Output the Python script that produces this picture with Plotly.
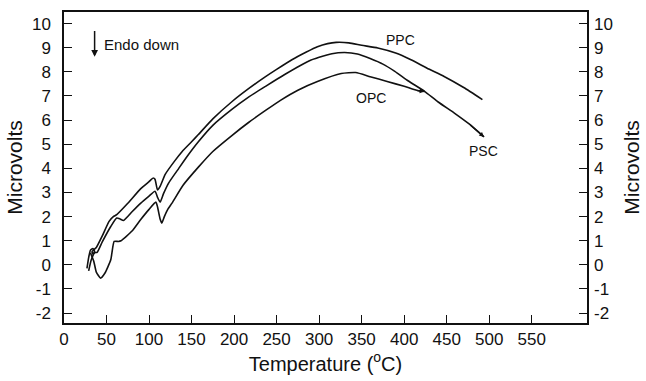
import plotly.graph_objects as go

# ---- data ----
ppc_t = [27, 29, 31, 34, 36, 34, 33, 38, 45, 53, 58, 62, 75, 90, 100, 105, 107, 110, 113, 119,
         130, 139, 150, 158, 175, 197, 217, 237, 250, 268, 285, 298, 310, 320, 335, 350, 369,
         390, 408, 427, 447, 470, 492]
ppc_v = [-0.15, 0.3, 0.6, 0.68, 0.55, 0.45, 0.55, 0.72, 1.2, 1.8, 2.0, 2.08, 2.55, 3.15, 3.45,
         3.6, 3.55, 3.1, 3.25, 3.75, 4.3, 4.7, 5.1, 5.4, 6.05, 6.75, 7.3, 7.8, 8.1, 8.5, 8.82,
         9.04, 9.17, 9.22, 9.2, 9.1, 8.99, 8.78, 8.5, 8.15, 7.81, 7.35, 6.85]

psc_t = [29, 32, 36, 39, 45, 55, 62, 66, 70, 80, 90, 100, 107, 110, 113, 117, 123, 135, 146,
         158, 175, 197, 217, 237, 260, 288, 300, 315, 330, 345, 360, 375, 389, 405, 424, 440,
         459, 476, 494]
psc_v = [-0.25, 0.2, 0.5, 0.52, 0.95, 1.59, 1.94, 1.9, 1.84, 2.2, 2.55, 2.85, 3.05, 2.8, 2.6,
         2.95, 3.39, 4.0, 4.55, 5.1, 5.78, 6.43, 6.95, 7.4, 7.9, 8.45, 8.6, 8.75, 8.8, 8.74,
         8.55, 8.32, 8.02, 7.62, 7.19, 6.75, 6.29, 5.85, 5.3]

opc_t = [31, 35, 38, 43, 48, 55, 59, 64, 67, 80, 90, 100, 108, 110, 113, 115, 118, 122, 127,
         140, 158, 175, 197, 217, 237, 255, 275, 298, 326, 343, 360, 380, 400, 416, 424]
opc_v = [0.5, 0.15, -0.3, -0.55, -0.35, 0.21, 0.97, 0.97, 1.0, 1.4, 1.87, 2.3, 2.6, 2.4, 1.9,
         1.73, 2.0, 2.3, 2.56, 3.3, 4.05, 4.7, 5.35, 5.9, 6.4, 6.83, 7.24, 7.6, 7.93, 7.97,
         7.8, 7.6, 7.4, 7.22, 7.19]

x_ticks = [0, 50, 100, 150, 200, 250, 300, 350, 400, 450, 500, 550]
y_ticks = [-2, -1, 0, 1, 2, 3, 4, 5, 6, 7, 8, 9, 10]

curve_labels = ["PPC", "OPC", "PSC"]
label_t = [396, 361, 493]
label_v = [9.34, 6.93, 4.73]

endo_text = "Endo down"
endo_t, endo_v = 44.5, 9.13
endo_arrow_t, endo_arrow_top, endo_arrow_bottom = 36, 9.75, 8.63

X_RANGE = [0, 615]
Y_RANGE = [-2.41, 10.48]

FONT = "Liberation Sans, Arial, sans-serif"
INK = "#111111"

fig = go.Figure()
for t, v in [(ppc_t, ppc_v), (psc_t, psc_v), (opc_t, opc_v)]:
    fig.add_trace(go.Scatter(x=t, y=v, mode="lines",
                             line=dict(color=INK, width=1.6, shape="spline", smoothing=0.5),
                             showlegend=False, hoverinfo="skip"))
# invisible trace so the right-hand axis is drawn
fig.add_trace(go.Scatter(x=ppc_t, y=ppc_v, yaxis="y2", mode="lines",
                         line=dict(color="rgba(0,0,0,0)", width=0),
                         showlegend=False, hoverinfo="skip"))

annotations = []
for txt, t, v in zip(curve_labels, label_t, label_v):
    annotations.append(dict(x=t, y=v, text=txt, showarrow=False,
                            font=dict(family=FONT, size=14, color=INK)))
annotations.append(dict(x=endo_t, y=endo_v, text=endo_text, showarrow=False,
                        xanchor="left", font=dict(family=FONT, size=15, color=INK)))
annotations.append(dict(x=endo_arrow_t, y=endo_arrow_bottom, ax=endo_arrow_t, ay=endo_arrow_top,
                        xref="x", yref="y", axref="x", ayref="y", text="",
                        showarrow=True, arrowhead=2, arrowsize=0.9, arrowwidth=1.5,
                        arrowcolor=INK))
for t, v in [(opc_t, opc_v), (psc_t, psc_v)]:
    annotations.append(dict(x=t[-1], y=v[-1], ax=t[-2], ay=v[-2],
                            xref="x", yref="y", axref="x", ayref="y", text="",
                            showarrow=True, arrowhead=2, arrowsize=0.7, arrowwidth=1.4,
                            arrowcolor=INK))

axis_common = dict(showgrid=False, zeroline=False, ticks="inside", ticklen=8,
                   tickwidth=1.2, tickcolor=INK, automargin=False,
                   tickfont=dict(family=FONT, size=17, color=INK))

fig.update_layout(
    width=646, height=381,
    margin=dict(l=64, r=59, t=12, b=58, autoexpand=False),
    paper_bgcolor="white", plot_bgcolor="white",
    font=dict(family=FONT, color=INK),
    xaxis=dict(range=X_RANGE, tickvals=x_ticks, ticktext=[str(v) for v in x_ticks],
               showline=True, linecolor=INK, linewidth=1.5, mirror=True,
               title=dict(text="Temperature (<sup>o</sup>C)",
                          font=dict(family=FONT, size=20, color=INK), standoff=6),
               **axis_common),
    yaxis=dict(range=Y_RANGE, tickvals=y_ticks, ticktext=[str(v) for v in y_ticks],
               showline=True, linecolor=INK, linewidth=1.5, mirror=True,
               ticklabelstandoff=8,
               title=dict(text="Microvolts", font=dict(family=FONT, size=21, color=INK),
                          standoff=4),
               **axis_common),
    yaxis2=dict(range=Y_RANGE, tickvals=y_ticks, ticktext=[str(v) for v in y_ticks],
                overlaying="y", side="right", showline=False,
                ticklabelstandoff=6,
                title=dict(text="Microvolts", font=dict(family=FONT, size=21, color=INK),
                           standoff=12),
                **axis_common),
    annotations=annotations,
)

fig.write_html("out.html")
